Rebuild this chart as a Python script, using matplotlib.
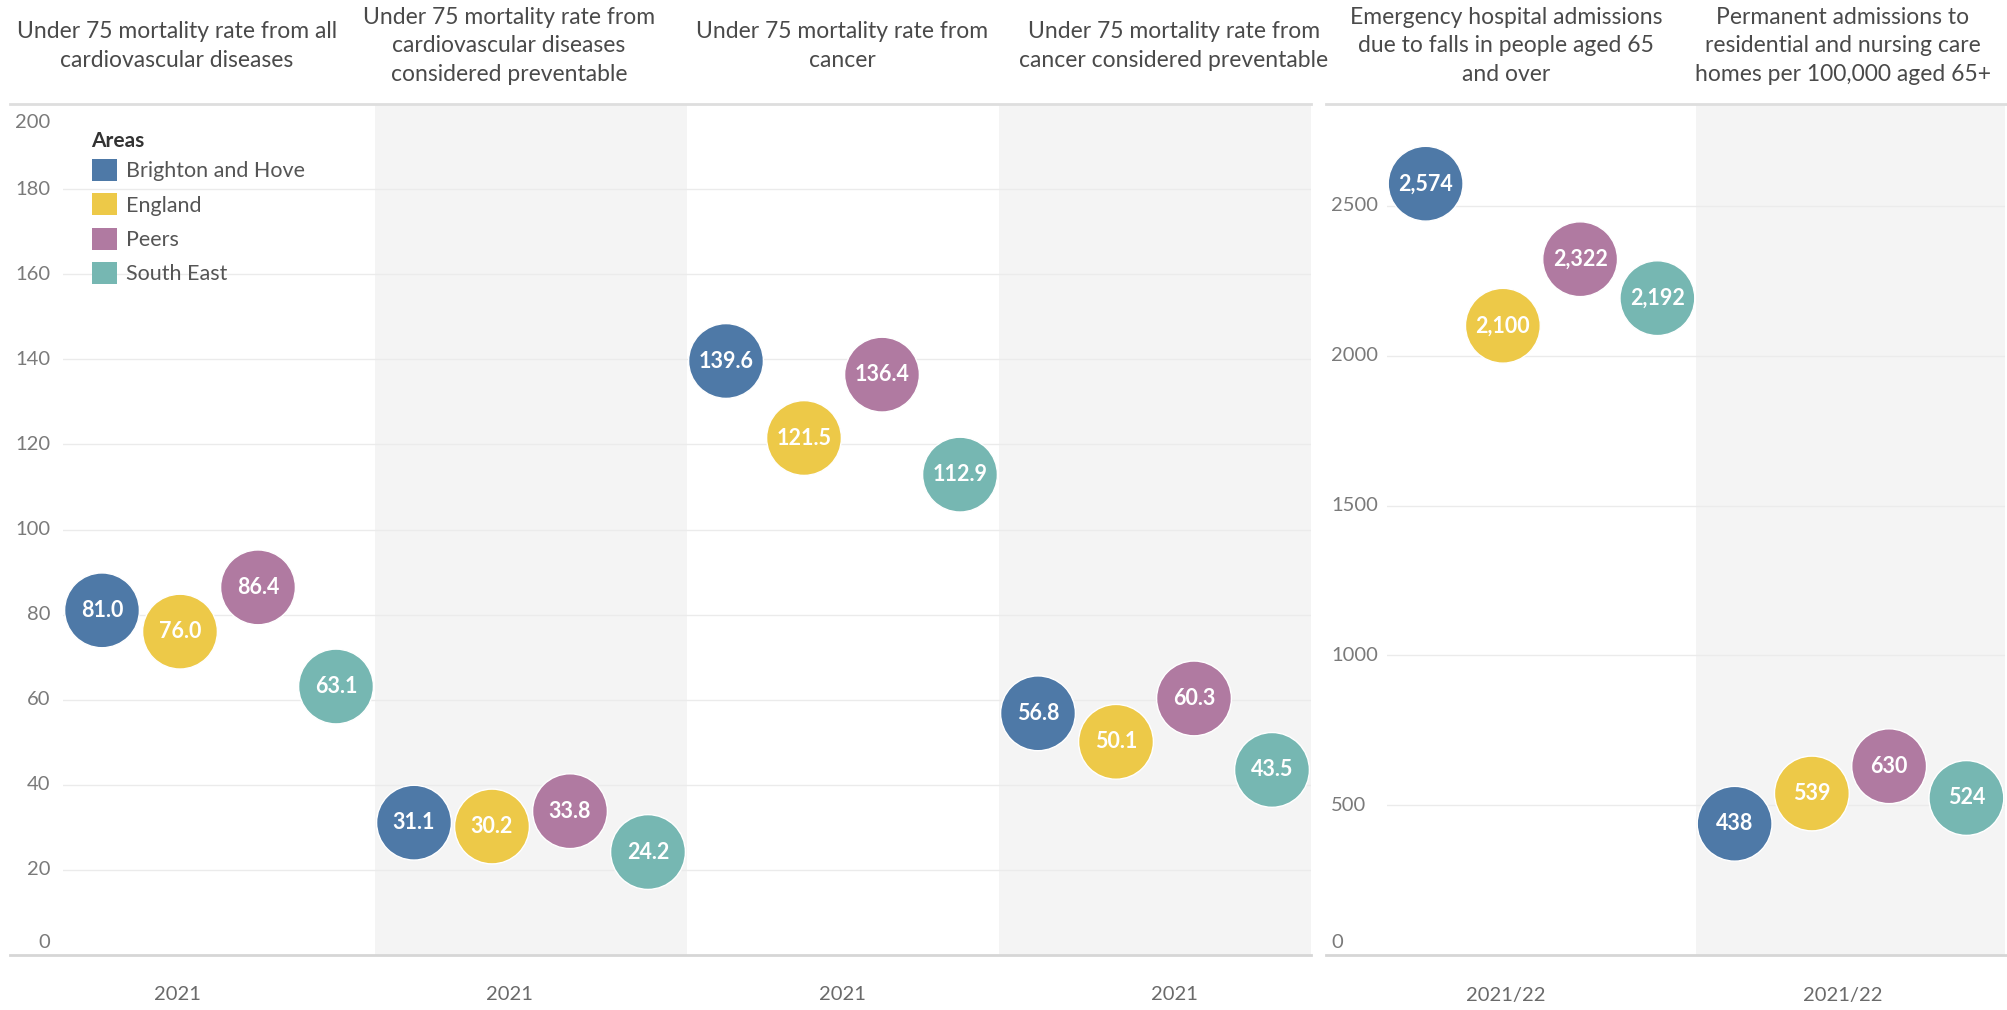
import matplotlib
matplotlib.use('Agg')
import matplotlib.pyplot as plt
from matplotlib.patches import Patch
from matplotlib.lines import Line2D
import matplotlib.transforms as mtransforms
import numpy as np

plt.rcParams['font.family'] = ['Lato', 'DejaVu Sans']

areas = ['Brighton and Hove', 'England', 'Peers', 'South East']
colors = ['#4e79a7', '#edc948', '#b07aa1', '#76b7b2']

# left chart: rates per 100,000 (2021)
left_titles = ['Under 75 mortality rate from all\ncardiovascular diseases',
               'Under 75 mortality rate from\ncardiovascular diseases\nconsidered preventable',
               'Under 75 mortality rate from\ncancer',
               'Under 75 mortality rate from\ncancer considered preventable']
left_years = ['2021', '2021', '2021', '2021']
left_vals = [[81.0, 76.0, 86.4, 63.1],
             [31.1, 30.2, 33.8, 24.2],
             [139.6, 121.5, 136.4, 112.9],
             [56.8, 50.1, 60.3, 43.5]]
left_ticks = [0, 20, 40, 60, 80, 100, 120, 140, 160, 180, 200]

# right chart: admissions (2021/22)
right_titles = ['Emergency hospital admissions\ndue to falls in people aged 65\nand over',
                'Permanent admissions to\nresidential and nursing care\nhomes per 100,000 aged 65+']
right_years = ['2021/22', '2021/22']
right_vals = [[2574, 2100, 2322, 2192],
              [438, 539, 630, 524]]
right_ticks = [0, 500, 1000, 1500, 2000, 2500]

W, H = 2007, 1010
fig = plt.figure(figsize=(W / 100, H / 100), dpi=100)
fig.patch.set_facecolor('white')

def fx(px):
    return px / W

def fy(py):
    return 1 - py / H

top_px, bot_px = 104, 955
axL = fig.add_axes([fx(63), fy(bot_px), fx(1311 - 63), (bot_px - top_px) / H])
axR = fig.add_axes([fx(1387), fy(bot_px), fx(2005 - 1387), (bot_px - top_px) / H])

head_x_left = [177, 509, 842, 1174]
head_x_right = [1506, 1843]

def draw_chart(ax, vals, ticks, ymax, tick_x, tick_ha, fmt):
    n = len(vals)
    ax.set_xlim(0, n)
    ax.set_ylim(0, ymax)
    for k in range(n):
        if k % 2 == 1:
            ax.axvspan(k, k + 1, color='#f4f4f4', zorder=0, lw=0)
    for t in ticks[1:]:
        if t < ymax:
            ax.axhline(t, color='#ebebeb', lw=1, zorder=0.5)
    for k in range(n):
        xs = [k + (i + 0.5) / 4 for i in range(4)]
        ax.scatter(xs, vals[k], s=2900, c=colors, edgecolors='white',
                   linewidths=1, zorder=3, clip_on=False)
        for x, v in zip(xs, vals[k]):
            ax.text(x, v, fmt(v), ha='center', va='center', color='white',
                    fontsize=15.5, fontweight='bold', zorder=4)
    ax.set_xticks([])
    ax.set_yticks([])
    for s in ax.spines.values():
        s.set_visible(False)
    trans = mtransforms.blended_transform_factory(ax.transAxes, ax.transData)
    for t in ticks:
        if t > ymax:
            continue
        dy = 0
        if t == 0:
            dy = 13
        elif t == ymax:
            dy = -18
        tr = mtransforms.offset_copy(trans, fig=fig, x=0, y=dy, units='dots')
        ax.text(tick_x, t, str(t), transform=tr, ha=tick_ha,
                va='center', fontsize=14.5, color='#7a7a7a')

draw_chart(axL, left_vals, left_ticks, 200, (50 - 63) / (1311 - 63), 'right',
           lambda v: f'{v:.1f}')
draw_chart(axR, right_vals, right_ticks, 2840, (1331 - 1387) / (2005 - 1387), 'left',
           lambda v: f'{v:,.0f}')

# header and year labels
for x, t, y in zip(head_x_left + head_x_right, left_titles + right_titles,
                   left_years + right_years):
    fig.text(fx(x), fy(46), t, ha='center', va='center', fontsize=16.5,
             color='#4a4a4a', linespacing=1.45)
    fig.text(fx(x), fy(995), y, ha='center', va='center', fontsize=14.5,
             color='#6a6a6a')

# separator lines
for x0, x1 in [(10, 1311), (1326, 2007)]:
    fig.add_artist(Line2D([fx(x0), fx(x1)], [fy(top_px), fy(top_px)],
                          color='#dedede', lw=2, transform=fig.transFigure))
    fig.add_artist(Line2D([fx(x0), fx(x1)], [fy(bot_px), fy(bot_px)],
                          color='#d6d6d6', lw=2, transform=fig.transFigure))

# legend
fig.text(fx(91), fy(141), 'Areas', ha='left', va='center', fontsize=15,
         fontweight='bold', color='#333333')
handles = [Patch(facecolor=c, edgecolor='none') for c in colors]
leg = axL.legend(handles, areas, loc='upper left',
                 bbox_to_anchor=(fx(92), fy(159)), bbox_transform=fig.transFigure,
                 frameon=False, fontsize=15.5, borderpad=0, borderaxespad=0,
                 handlelength=1.15, handleheight=1.2, handletextpad=0.45,
                 labelspacing=0.56)
for t in leg.get_texts():
    t.set_color('#555555')

fig.savefig('out.png', dpi=100, facecolor='white')
